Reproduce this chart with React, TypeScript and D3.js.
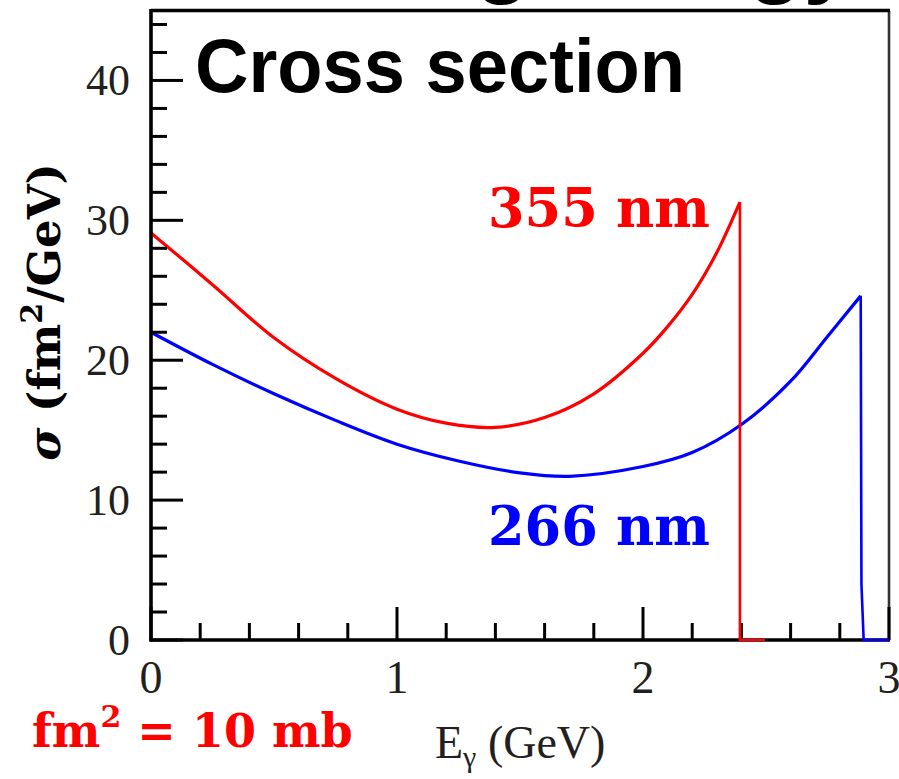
import React from "react";
import * as d3 from "d3";

// ---- data ----
const redE = [0, 0.25, 0.5, 0.75, 1.0, 1.2, 1.4, 1.6, 1.8, 2.0, 2.1, 2.2, 2.3, 2.394];
const redSigma = [29.1, 25.4, 21.6, 18.7, 16.5, 15.5, 15.2, 15.9, 17.6, 20.5, 22.4, 24.7, 27.7, 31.3];
const redEdgeE = [2.394, 2.394, 2.496];
const redEdgeSigma = [31.3, 0, 0];

const blueE = [0, 0.25, 0.5, 0.75, 1.0, 1.25, 1.5, 1.7, 2.0, 2.2, 2.4, 2.6, 2.75, 2.885];
const blueSigma = [22.0, 19.7, 17.6, 15.7, 14.0, 12.8, 11.95, 11.7, 12.4, 13.4, 15.4, 18.5, 21.7, 24.6];
const blueEdgeE = [2.885, 2.888, 2.897, 3.0];
const blueEdgeSigma = [24.6, 4.0, 0, 0];

const xMajorTicks = [0, 1, 2, 3];
const yMajorTicks = [0, 10, 20, 30, 40];

const W = 899;
const H = 779;

export default function App() {
  const x = d3.scaleLinear().domain([0, 3]).range([151, 889]);
  const y = d3.scaleLinear().domain([0, 45]).range([640, 10.5]);

  const smooth = d3
    .line<[number, number]>()
    .x((d) => x(d[0]))
    .y((d) => y(d[1]))
    .curve(d3.curveCatmullRom.alpha(0.5));
  const straight = d3
    .line<[number, number]>()
    .x((d) => x(d[0]))
    .y((d) => y(d[1]));

  const zip = (a: number[], b: number[]) => a.map((v, i) => [v, b[i]] as [number, number]);

  const xMinor = d3.range(0, 3.0001, 0.2).filter((v) => !xMajorTicks.some((m) => Math.abs(m - v) < 1e-6));
  const yMinor = d3.range(0, 45, 2).filter((v) => !yMajorTicks.includes(v));

  const tickColor = "#231f20";
  const serif = "'Liberation Serif', 'Times New Roman', serif";
  const boldSerif = "'DejaVu Serif', serif";

  return (
    <svg
      width={W}
      height={H}
      style={{ position: "absolute", left: 0, top: 0, background: "#fff" }}
    >
      <rect x={0} y={0} width={W} height={H} fill="#fff" />

      {/* partial slide title cut off at the top (as in the reference) */}
      <text
        x={854}
        y={-14}
        textAnchor="end"
        fontFamily="'Liberation Sans', Arial, sans-serif"
        fontWeight="bold"
        fontSize={91}
        fill="#000"
      >
        Scattering energy
      </text>

      {/* smooth parts of curves */}
      <path d={smooth(zip(redE, redSigma)) || ""} fill="none" stroke="#ff0000" strokeWidth={3.2} />
      <path d={smooth(zip(blueE, blueSigma)) || ""} fill="none" stroke="#0000ff" strokeWidth={3.2} />

      {/* frame */}
      <line x1={x(3)} x2={x(3)} y1={y(45)} y2={y(0)} stroke="#333" strokeWidth={2.6} />
      <line x1={x(0)} x2={x(3) + 1} y1={y(45)} y2={y(45)} stroke="#000" strokeWidth={3.4} />
      <line x1={x(0)} x2={x(0)} y1={y(45) - 1.5} y2={y(0) + 1.5} stroke="#000" strokeWidth={3.6} />
      <line x1={x(0) - 1.5} x2={x(3) + 1} y1={y(0)} y2={y(0)} stroke="#000" strokeWidth={3.6} />

      {/* y ticks */}
      {yMajorTicks.map((v) => (
        <line key={"ymj" + v} x1={x(0)} x2={x(0) + 32} y1={y(v)} y2={y(v)} stroke="#000" strokeWidth={3} />
      ))}
      {yMinor.map((v) => (
        <line key={"ymn" + v} x1={x(0)} x2={x(0) + 16} y1={y(v)} y2={y(v)} stroke="#000" strokeWidth={3} />
      ))}
      {/* x ticks */}
      {xMajorTicks.map((v) => (
        <line key={"xmj" + v} x1={x(v)} x2={x(v)} y1={y(0)} y2={y(0) - 33} stroke="#000" strokeWidth={3} />
      ))}
      {xMinor.map((v) => (
        <line key={"xmn" + v} x1={x(v)} x2={x(v)} y1={y(0)} y2={y(0) - 17} stroke="#000" strokeWidth={3} />
      ))}

      {/* cut-off edges drawn over the axis */}
      <path d={straight(zip(redEdgeE, redEdgeSigma)) || ""} fill="none" stroke="#ff0000" strokeWidth={2.6} />
      <path d={straight(zip(blueEdgeE, blueEdgeSigma)) || ""} fill="none" stroke="#0000ff" strokeWidth={2.6} />

      {/* y tick labels */}
      {yMajorTicks.map((v) => (
        <text
          key={"yl" + v}
          x={130}
          y={y(v)}
          dy="0.34em"
          textAnchor="end"
          fontFamily={serif}
          fontSize={44}
          fill={tickColor}
        >
          {v}
        </text>
      ))}
      {/* x tick labels */}
      {xMajorTicks.map((v) => (
        <text
          key={"xl" + v}
          x={x(v)}
          y={693}
          textAnchor="middle"
          fontFamily={serif}
          fontSize={46}
          fill={tickColor}
        >
          {v}
        </text>
      ))}

      {/* x axis title */}
      <text x={435} y={758} fontFamily={serif} fontSize={46} fill={tickColor}>
        E
        <tspan fontSize={30} dy={9}>γ</tspan>
        <tspan dy={-9}> (GeV)</tspan>
      </text>

      {/* y axis title */}
      <text
        transform="translate(60,312) rotate(-90)"
        textAnchor="middle"
        fontFamily={boldSerif}
        fontWeight="bold"
        fontSize={45}
        fill="#000"
      >
        <tspan fontStyle="italic">σ</tspan>
        <tspan> (fm</tspan>
        <tspan fontSize={30} dy={-18}>2</tspan>
        <tspan dy={18}>/GeV)</tspan>
      </text>

      {/* annotations */}
      <text
        x={195}
        y={92}
        fontFamily="'Liberation Sans', Arial, sans-serif"
        fontWeight="bold"
        fontSize={76}
        textLength={490}
        lengthAdjust="spacingAndGlyphs"
        fill="#000"
      >
        Cross section
      </text>
      <text
        x={488}
        y={227}
        fontFamily={boldSerif}
        fontWeight="bold"
        fontSize={54}
        textLength={222}
        lengthAdjust="spacingAndGlyphs"
        fill="#ff0000"
      >
        355 nm
      </text>
      <text
        x={488}
        y={545}
        fontFamily={boldSerif}
        fontWeight="bold"
        fontSize={54}
        textLength={222}
        lengthAdjust="spacingAndGlyphs"
        fill="#0000ff"
      >
        266 nm
      </text>
      <text x={32} y={747} fontFamily={boldSerif} fontWeight="bold" fontSize={46} fill="#ff0000">
        fm
        <tspan fontSize={30} dy={-20}>2</tspan>
        <tspan dy={20}> = 10 mb</tspan>
      </text>
    </svg>
  );
}
